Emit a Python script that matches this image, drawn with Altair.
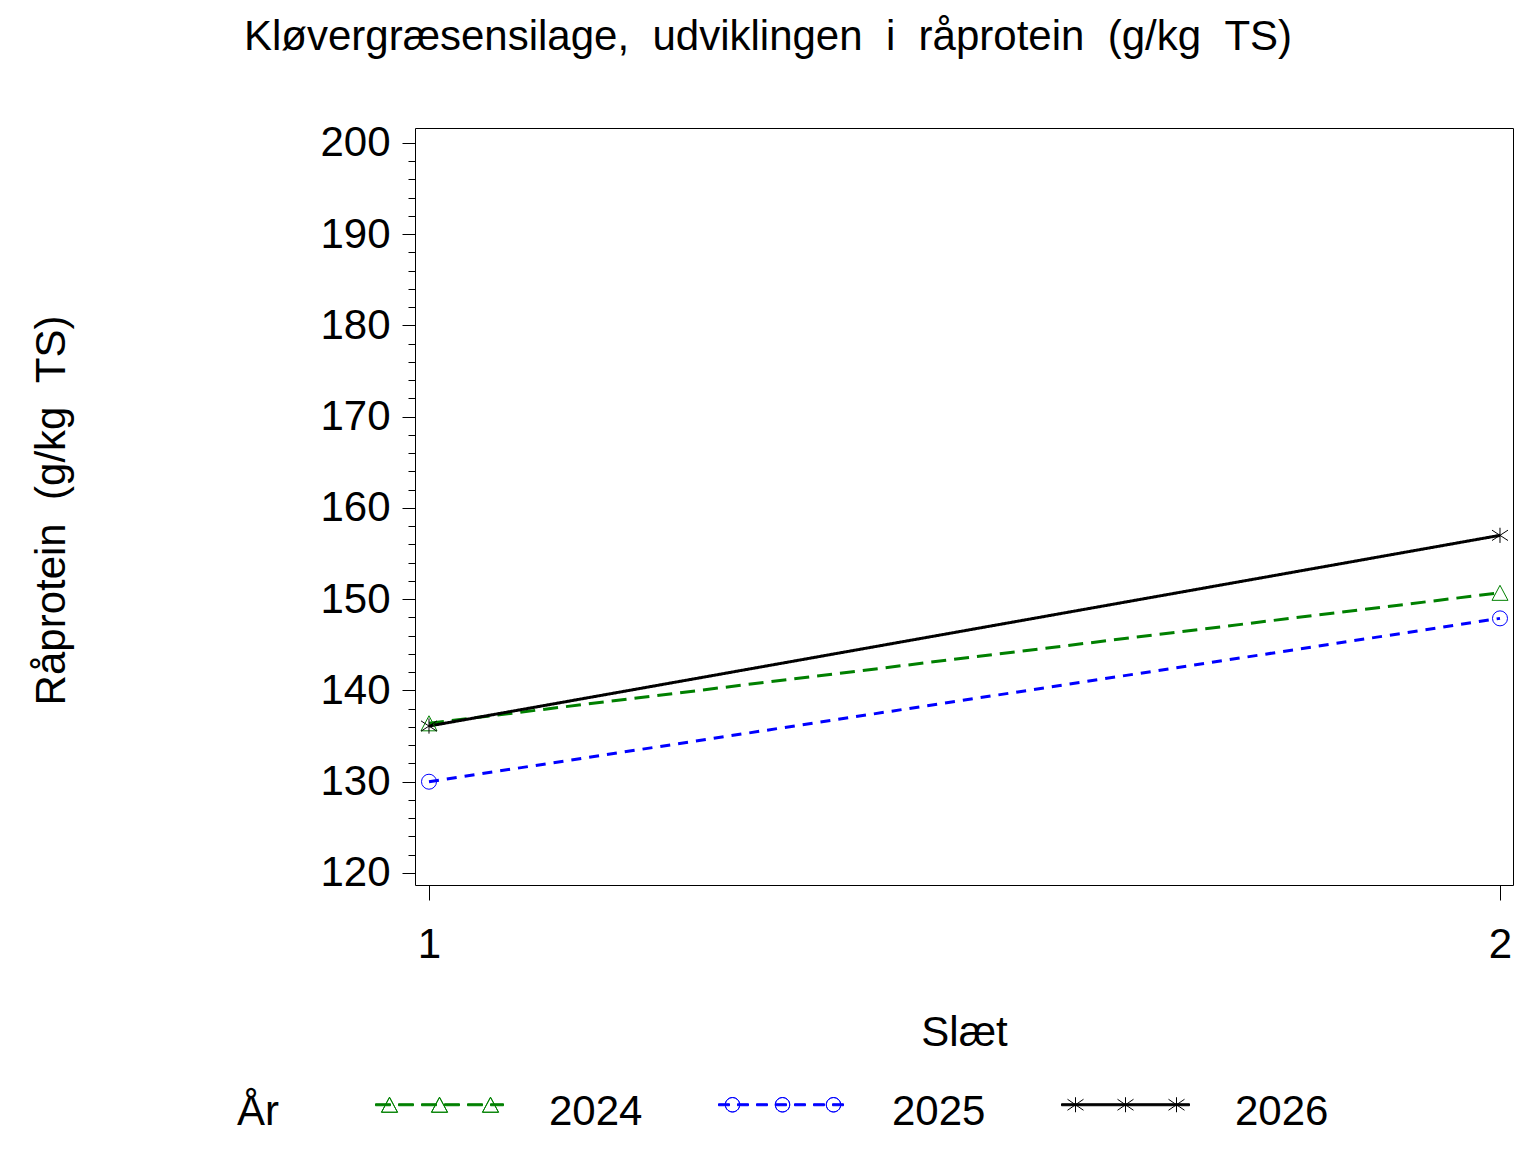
import altair as alt
import pandas as pd
import math

# ---- data ----
years = ["2024", "2025", "2026"]
slaet = [1, 2]
v2024 = [136.4, 150.7]
v2025 = [130.0, 147.9]
v2026 = [136.1, 157.0]
colors = ["#008000", "#0000FF", "#000000"]

rows = []
for yr, vals in zip(years, [v2024, v2025, v2026]):
    for s, v in zip(slaet, vals):
        rows.append({"År": yr, "Slæt": s, "value": v})
df = pd.DataFrame(rows)

FONT = "Liberation Sans"
FS = 42
NB = " \u00a0"
title_text = NB.join(["Kløvergræsensilage,", "udviklingen", "i", "råprotein", "(g/kg", "TS)"])
ytitle = NB.join(["Råprotein", "(g/kg", "TS)"])

# ---- marker shapes (unit coords, scaled by sqrt(size)/2) ----
TRI = "M0,-0.94L1,0.94L-1,0.94Z"
STAR = "M0,-0.95L0,0.95M-1,-0.65L1,0.65M-1,0.65L1,-0.65"

# ---- legend symbol paths (line sample with three markers), 64 px per unit ----
U = 64.0
LY = -7.0  # px, line offset from row centre


def u(v):
    return round(v / U, 4)


def rect(x0, x1, yc, h=2.0):
    return (f"M{u(x0)},{u(yc-h/2)}L{u(x1)},{u(yc-h/2)}"
            f"L{u(x1)},{u(yc+h/2)}L{u(x0)},{u(yc+h/2)}Z")


def dashed(dash, gap):
    out, x = [], -64.0
    while x < 64.0:
        out.append(rect(x, min(x + dash, 64.0), LY))
        x += dash + gap
    return "".join(out)


def retrace(pts):
    # go round the outline and back again: zero winding, so the outline is never filled
    seq = pts + [pts[0]] + list(reversed(pts))
    return "M" + "L".join(f"{u(px)},{u(py)}" for px, py in seq)


def tri(cx, cy):
    return retrace([(cx, cy - 7.5), (cx + 8, cy + 7.5), (cx - 8, cy + 7.5)])


def circ(cx, cy, r=7.2):
    pts = [(cx + r * math.cos(2 * math.pi * k / 28), cy + r * math.sin(2 * math.pi * k / 28)) for k in range(28)]
    return retrace(pts)


def star(cx, cy):
    return (f"M{u(cx)},{u(cy-7.5)}L{u(cx)},{u(cy+7.5)}"
            f"M{u(cx-8)},{u(cy-5.5)}L{u(cx+8)},{u(cy+5.5)}"
            f"M{u(cx-8)},{u(cy+5.5)}L{u(cx+8)},{u(cy-5.5)}")


mx = [-50.0, 0.0, 51.0]
leg_paths = [
    dashed(15, 8) + "".join(tri(m, LY) for m in mx),
    dashed(11, 8) + "".join(circ(m, LY) for m in mx),
    rect(-64, 64, LY) + "".join(star(m, LY) for m in mx),
]

yticks = list(range(120, 201, 2))

xs = alt.Scale(domain=[0.98693, 2.01214], nice=False, zero=False)
ys = alt.Scale(domain=[118.68, 201.64], nice=False, zero=False)

x_axis = alt.Axis(values=[1, 2], format="d", title="Slæt", tickSize=15, labelPadding=24,
                  labelFontSize=FS, titleFontSize=FS, domain=False, grid=False,
                  titleFontWeight="normal", titleFont=FONT, labelFont=FONT,
                  titleY=160, titleBaseline="alphabetic", titleAnchor="middle")
y_axis = alt.Axis(values=yticks, title=ytitle, domain=False, grid=False,
                  labelExpr="datum.value % 10 == 0 ? datum.label : ''",
                  tickSize={"condition": {"test": "datum.value % 10 == 0", "value": 13}, "value": 7},
                  labelPadding=12, labelFontSize=FS, titleFontSize=FS,
                  titleFontWeight="normal", titleFont=FONT, labelFont=FONT,
                  titleX=-351, titleY=382, titleBaseline="alphabetic", titleAlign="center")

base = alt.Chart(df)
X = alt.X("Slæt:Q", scale=xs, axis=x_axis)
Y = alt.Y("value:Q", scale=ys, axis=y_axis)
# data-driven domain (sorted) so these hidden legends do not merge with the real one
col = alt.Color("År:N", scale=alt.Scale(range=colors), legend=None)

lines = base.mark_line(strokeWidth=3).encode(
    x=X, y=Y, color=col,
    strokeDash=alt.StrokeDash("År:N", scale=alt.Scale(range=[[15, 8], [10, 8], [1, 0]]), legend=None),
    order=alt.Order("Slæt:Q"),
)

shapes = [(TRI, 256), ("circle", 225), (STAR, 256)]
pts_layers = []
for yr, (shp, sz) in zip(years, shapes):
    pts_layers.append(
        base.transform_filter(alt.datum["År"] == yr)
        .mark_point(shape=shp, size=sz, filled=False, strokeWidth=1, opacity=1)
        .encode(x=X, y=Y, color=col)
    )

leg = alt.Legend(orient="none", legendX=-178, legendY=919, direction="horizontal",
                 title="År", titleOrient="left", titleAnchor="middle",
                 titleBaseline="line-top", titleLineHeight=46,
                 titleFontSize=FS, labelFontSize=FS, titleFont=FONT, labelFont=FONT,
                 titleFontWeight="normal", titleColor="black", labelColor="black",
                 symbolSize=16384, symbolStrokeWidth=1, symbolOpacity=1,
                 labelOffset=45, columnPadding=73, titlePadding=96, padding=0)

legend_layer = base.transform_filter("false").mark_point(filled=True, strokeWidth=1, opacity=1).encode(
    x=X, y=Y,
    shape=alt.Shape("År:N", scale=alt.Scale(domain=years, range=leg_paths), legend=leg),
    fill=alt.Fill("År:N", scale=alt.Scale(domain=years, range=colors), legend=leg),
    stroke=alt.Stroke("År:N", scale=alt.Scale(domain=years, range=colors), legend=leg),
)

chart = alt.layer(lines, *pts_layers, legend_layer).properties(
    width=1098, height=757,
    background="white",
    title=alt.TitleParams(text=title_text, fontSize=FS, font=FONT, fontWeight="normal",
                          anchor="middle", frame="group", dx=-196, offset=30,
                          baseline="alphabetic", color="black"),
    autosize=alt.AutoSizeParams(type="none"),
    padding={"left": 407, "top": 120, "right": 10, "bottom": 250},
).configure_view(stroke="black", strokeWidth=1).configure_axis(
    labelFont=FONT, titleFont=FONT, labelColor="black", titleColor="black",
    tickColor="black", tickWidth=1, titleFontWeight="normal",
)

chart.save("out.html", embed_options={"renderer": "svg", "actions": False})
